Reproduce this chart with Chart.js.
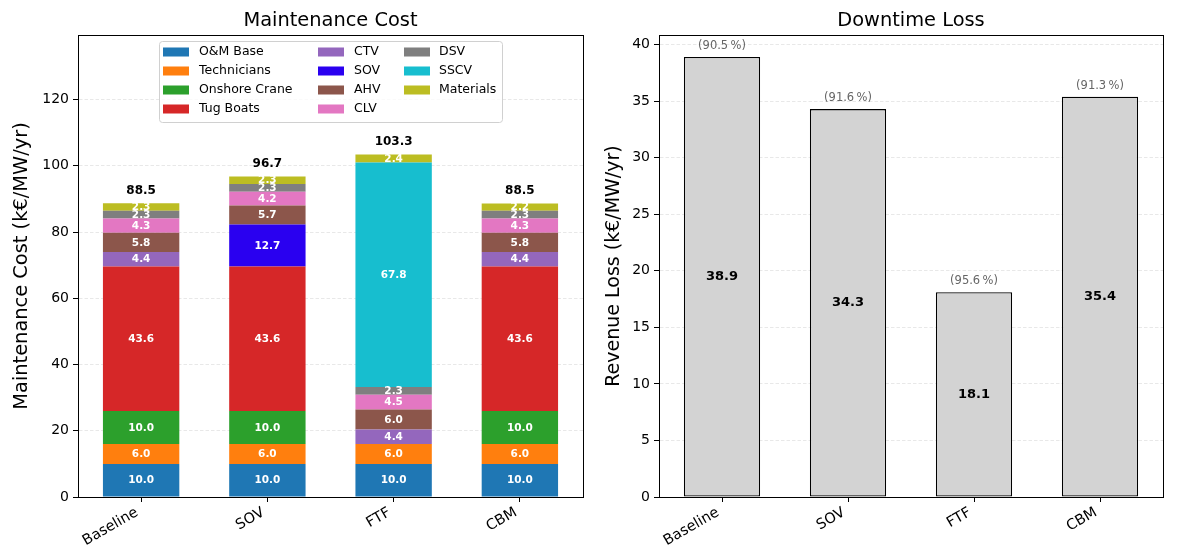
<!DOCTYPE html>
<html>
<head>
<meta charset="utf-8">
<script src="https://cdn.jsdelivr.net/npm/chart.js@4.4.1/dist/chart.umd.min.js"></script>
<style>
  html,body{margin:0;padding:0;background:#fff}
  #wrap{position:relative;width:1177px;height:559px}
  .box{position:absolute;top:0;height:559px}
  #b1{left:0;width:595px}
  #b2{left:595px;width:582px}
</style>
</head>
<body>
<div id="wrap">
  <div class="box" id="b1"><canvas id="costChart"></canvas></div>
  <div class="box" id="b2"><canvas id="lossChart"></canvas></div>
</div>
<script>
/* ---------- data ---------- */
const scenarios = ['Baseline', 'SOV', 'FTF', 'CBM'];

const omBase       = [10.0, 10.0, 10.0, 10.0];
const technicians  = [6.0, 6.0, 6.0, 6.0];
const onshoreCrane = [10.0, 10.0, 0, 10.0];
const tugBoats     = [43.6, 43.6, 0, 43.6];
const ctv          = [4.4, 0, 4.4, 4.4];
const sov          = [0, 12.7, 0, 0];
const ahv          = [5.8, 5.7, 6.0, 5.8];
const clv          = [4.3, 4.2, 4.5, 4.3];
const dsv          = [2.3, 2.3, 2.3, 2.3];
const sscv         = [0, 0, 67.8, 0];
const materials    = [2.3, 2.3, 2.4, 2.2];
const costTotals   = [88.5, 96.7, 103.3, 88.5];

const revenueLoss  = [38.9, 34.3, 18.1, 35.4];
const availability = [90.5, 91.6, 95.6, 91.3];

const costTicks = [0, 20, 40, 60, 80, 100, 120];
const lossTicks = [0, 5, 10, 15, 20, 25, 30, 35, 40];

const FONT = '"DejaVu Sans", sans-serif';
Chart.defaults.font.family = FONT;
Chart.defaults.color = '#000';

const costSeries = [
  ['O&M Base', omBase, '#1f77b4'],
  ['Technicians', technicians, '#ff7f0e'],
  ['Onshore Crane', onshoreCrane, '#2ca02c'],
  ['Tug Boats', tugBoats, '#d62728'],
  ['CTV', ctv, '#9467bd'],
  ['SOV', sov, '#2a00f0'],
  ['AHV', ahv, '#8c564b'],
  ['CLV', clv, '#e377c2'],
  ['DSV', dsv, '#7f7f7f'],
  ['SSCV', sscv, '#17becf'],
  ['Materials', materials, '#bcbd22']
];

/* ---------- shared plugins ---------- */
// box round the plot + title centred on the plot (like matplotlib)
const frame = {
  id: 'frame',
  afterDraw(chart, args, opts){
    const {ctx, chartArea:a} = chart;
    ctx.save();
    ctx.strokeStyle = '#000';
    ctx.lineWidth = 1;
    const l = Math.round(a.left) + 0.5, t = Math.round(a.top) + 0.5;
    ctx.strokeRect(l, t, Math.round(a.right) - Math.round(a.left), Math.round(a.bottom) - Math.round(a.top));
    ctx.font = '19.4px ' + FONT;
    ctx.fillStyle = '#000';
    ctx.textAlign = 'center';
    ctx.textBaseline = 'middle';
    ctx.fillText(opts.title, (a.left + a.right) / 2, 21);
    ctx.restore();
  }
};

function yScale(max, ticks, width, titleText, titlePad, titleSize){
  return {
    min: 0, max: max,
    afterFit(s){ s.width = width; },
    afterBuildTicks(s){ s.ticks = ticks.map(v => ({value:v})); },
    ticks: { font:{size:14}, padding:4, color:'#000' },
    grid: { color:'#e2e2e2', lineWidth:0.8, tickColor:'#000', tickLength:5, tickWidth:1 },
    border: { color:'#000', width:1, dash:[3.5,2] },
    title: { display:true, text:titleText, font:{size:titleSize}, padding:{top:titlePad, bottom:0} }
  };
}
function xScale(){
  return {
    afterFit(s){ s.height = 62; },
    ticks: { font:{size:14.5}, minRotation:30, maxRotation:30, padding:2, labelOffset:-4, color:'#000' },
    grid: { drawOnChartArea:false, drawTicks:true, offset:false, tickColor:'#000', tickLength:5, tickWidth:1 },
    border: { color:'#000', width:1 }
  };
}

/* ---------- maintenance cost ---------- */
const segmentLabels = {
  id: 'segmentLabels',
  afterDatasetsDraw(chart){
    const ctx = chart.ctx;
    ctx.save();
    ctx.textAlign = 'center';
    ctx.textBaseline = 'middle';
    ctx.font = 'bold 10.5px ' + FONT;
    ctx.fillStyle = '#fff';
    chart.data.datasets.forEach((ds, i) => {
      chart.getDatasetMeta(i).data.forEach((bar, j) => {
        const v = ds.data[j];
        if(!v) return;
        const c = bar.getCenterPoint();
        ctx.fillText(v.toFixed(1), c.x, c.y + 0.5);
      });
    });
    ctx.font = 'bold 12px ' + FONT;
    ctx.fillStyle = '#000';
    const xs = chart.scales.x, ys = chart.scales.y;
    costTotals.forEach((t, j) => {
      ctx.fillText(t.toFixed(1), xs.getPixelForValue(j), ys.getPixelForValue(t) - 13);
    });
    ctx.restore();
  }
};

const colLegend = {
  id: 'colLegend',
  afterDraw(chart){
    const {ctx, chartArea:a} = chart;
    const w = 343, h = 81;
    const left = (a.left + a.right) / 2 - w / 2, top = a.top + 6;
    ctx.save();
    ctx.beginPath();
    ctx.roundRect(left + 0.5, top + 0.5, w, h, 3);
    ctx.fillStyle = 'rgba(255,255,255,0.8)';
    ctx.fill();
    ctx.strokeStyle = '#d0d0d0';
    ctx.lineWidth = 1;
    ctx.stroke();
    const colX = [4, 159, 245];
    const textX = [40, 195, 280];
    ctx.font = '12.5px ' + FONT;
    ctx.textBaseline = 'middle';
    ctx.textAlign = 'left';
    chart.data.datasets.forEach((ds, i) => {
      const col = Math.floor(i / 4), row = i % 4;
      const cy = top + 11 + row * 19;
      ctx.fillStyle = ds.backgroundColor;
      ctx.fillRect(left + colX[col], cy - 4.5, 26, 9);
      ctx.fillStyle = '#000';
      ctx.fillText(ds.label, left + textX[col], cy);
    });
    ctx.restore();
  }
};

new Chart(document.getElementById('costChart'), {
  type: 'bar',
  data: {
    labels: scenarios,
    datasets: costSeries.map(([label, data, color]) => ({
      label, data, backgroundColor: color, borderWidth: 0,
      barPercentage: 0.605, categoryPercentage: 1.0
    }))
  },
  options: {
    responsive: true, maintainAspectRatio: false, animation: false,
    layout: { padding: { left:0, right:12, top:35, bottom:0 } },
    plugins: {
      legend: { display:false },
      tooltip: { enabled:false },
      title: { display:false },
      frame: { title:'Maintenance Cost' }
    },
    scales: {
      x: Object.assign(xScale(), { stacked:true }),
      y: Object.assign(yScale(139.5, costTicks, 78, 'Maintenance Cost (k€/MW/yr)', 10.4, 19.4), { stacked:true })
    }
  },
  plugins: [segmentLabels, frame, colLegend]
});

/* ---------- downtime loss ---------- */
const lossLabels = {
  id: 'lossLabels',
  afterDatasetsDraw(chart){
    const ctx = chart.ctx;
    const meta = chart.getDatasetMeta(0);
    ctx.save();
    ctx.textAlign = 'center';
    ctx.textBaseline = 'middle';
    meta.data.forEach((bar, j) => {
      const c = bar.getCenterPoint();
      ctx.font = 'bold 13px ' + FONT;
      ctx.fillStyle = '#000';
      ctx.fillText(revenueLoss[j].toFixed(1), c.x, c.y);
      ctx.font = '11.5px ' + FONT;
      ctx.fillStyle = '#666';
      ctx.fillText('(' + availability[j].toFixed(1) + '\u202F%)', c.x, bar.y - 11);
    });
    ctx.restore();
  }
};

new Chart(document.getElementById('lossChart'), {
  type: 'bar',
  data: {
    labels: scenarios,
    datasets: [{
      label: 'Revenue Loss', data: revenueLoss,
      backgroundColor: '#d3d3d3', borderColor: '#000', borderWidth: 1.3, borderSkipped: false,
      barPercentage: 0.605, categoryPercentage: 1.0
    }]
  },
  options: {
    responsive: true, maintainAspectRatio: false, animation: false,
    layout: { padding: { left:0, right:14, top:35, bottom:0 } },
    plugins: {
      legend: { display:false },
      tooltip: { enabled:false },
      title: { display:false },
      frame: { title:'Downtime Loss' }
    },
    scales: {
      x: xScale(),
      y: yScale(40.85, lossTicks, 64, 'Revenue Loss (k€/MW/yr)', 7.6, 19)
    }
  },
  plugins: [lossLabels, frame]
});
</script>
</body>
</html>
